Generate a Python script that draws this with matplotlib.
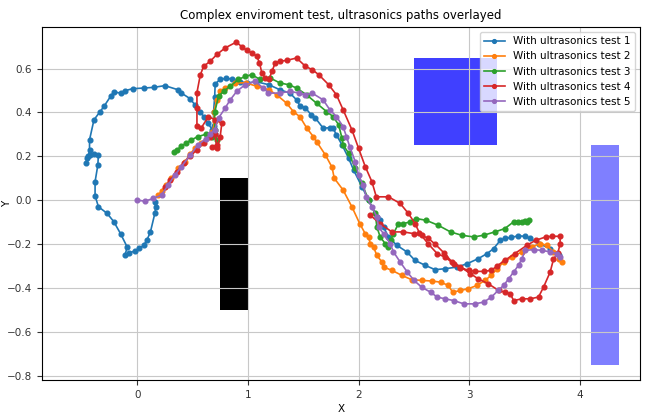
import matplotlib
matplotlib.use("Agg")
import matplotlib.pyplot as plt
import matplotlib.patches as patches

# path data (x, y in metres)
x1 = [0.16, 0.17, 0.16, 0.12, 0.09, 0.06, 0.02, -0.02, -0.07, -0.11, -0.09, -0.15, -0.21, -0.27, -0.35,
      -0.38, -0.38, -0.355, -0.35, -0.39, -0.43, -0.45, -0.46, -0.44, -0.43, -0.43, -0.39, -0.34, -0.30,
      -0.24, -0.21, -0.15, -0.11, -0.04, 0.06, 0.15, 0.25, 0.37, 0.40, 0.48, 0.52, 0.57, 0.60, 0.64, 0.68,
      0.70, 0.69, 0.69, 0.70, 0.705, 0.75, 0.80, 0.855, 0.93, 0.99, 1.075, 1.19, 1.29, 1.38, 1.44, 1.47,
      1.52, 1.57, 1.61, 1.68, 1.74, 1.77, 1.80, 1.85, 1.91, 1.955, 2.03, 2.09, 2.165, 2.195, 2.225, 2.27,
      2.345, 2.436, 2.51, 2.60, 2.69, 2.78, 2.89, 2.98, 3.08, 3.16, 3.22, 3.28, 3.32, 3.38, 3.44, 3.50,
      3.55, 3.625, 3.73, 3.81]
y1 = [-0.01, -0.03, -0.06, -0.145, -0.18, -0.206, -0.22, -0.232, -0.24, -0.252, -0.214, -0.153, -0.099,
      -0.061, -0.03, 0.02, 0.084, 0.16, 0.206, 0.21, 0.206, 0.19, 0.17, 0.20, 0.229, 0.275, 0.366, 0.40,
      0.427, 0.473, 0.493, 0.488, 0.499, 0.508, 0.511, 0.514, 0.522, 0.503, 0.488, 0.462, 0.435, 0.404,
      0.381, 0.35, 0.32, 0.30, 0.34, 0.40, 0.47, 0.53, 0.55, 0.555, 0.552, 0.54, 0.534, 0.54, 0.526, 0.503,
      0.488, 0.457, 0.43, 0.42, 0.39, 0.374, 0.328, 0.33, 0.328, 0.297, 0.252, 0.191, 0.137, 0.061, 0.0,
      -0.076, -0.09, -0.122, -0.168, -0.206, -0.236, -0.275, -0.297, -0.317, -0.313, -0.305, -0.29, -0.267,
      -0.244, -0.221, -0.183, -0.175, -0.17, -0.163, -0.165, -0.175, -0.198, -0.221, -0.252]

x2 = [0.19, 0.22, 0.26, 0.31, 0.37, 0.43, 0.48, 0.52, 0.58, 0.64, 0.68, 0.70, 0.69, 0.72, 0.75, 0.795,
      0.885, 0.98, 1.08, 1.19, 1.26, 1.35, 1.41, 1.47, 1.53, 1.59, 1.62, 1.70, 1.76, 1.78, 1.86, 1.94, 2.01,
      2.06, 2.09, 2.105, 2.135, 2.165, 2.21, 2.225, 2.30, 2.39, 2.48, 2.57, 2.66, 2.74, 2.81, 2.85, 2.92,
      2.99, 3.07, 3.14, 3.20, 3.25, 3.31, 3.385, 3.475, 3.565, 3.64, 3.70, 3.76, 3.81, 3.835]
y2 = [0.023, 0.04, 0.07, 0.10, 0.145, 0.175, 0.21, 0.236, 0.26, 0.29, 0.31, 0.36, 0.40, 0.457, 0.496,
      0.511, 0.534, 0.535, 0.519, 0.503, 0.48, 0.442, 0.404, 0.38, 0.33, 0.29, 0.267, 0.206, 0.15, 0.10,
      0.046, -0.031, -0.107, -0.153, -0.168, -0.198, -0.214, -0.252, -0.282, -0.305, -0.32, -0.343, -0.363,
      -0.366, -0.369, -0.374, -0.389, -0.42, -0.412, -0.404, -0.389, -0.366, -0.343, -0.313, -0.282, -0.26,
      -0.236, -0.214, -0.198, -0.206, -0.236, -0.267, -0.282]

x3 = [0.33, 0.36, 0.40, 0.44, 0.49, 0.55, 0.62, 0.68, 0.72, 0.70, 0.70, 0.735, 0.78, 0.84, 0.915, 0.975,
      1.036, 1.11, 1.20, 1.29, 1.37, 1.44, 1.53, 1.62, 1.71, 1.77, 1.82, 1.85, 1.86, 1.91, 1.97, 2.03, 2.09,
      2.15, 2.165, 2.195, 2.24, 2.27, 2.29, 2.315, 2.36, 2.405, 2.46, 2.52, 2.61, 2.72, 2.83, 2.93, 3.04,
      3.13, 3.23, 3.32, 3.40, 3.44, 3.475, 3.50, 3.535, 3.52]
y3 = [0.22, 0.23, 0.245, 0.26, 0.275, 0.29, 0.30, 0.29, 0.275, 0.32, 0.40, 0.473, 0.496, 0.519, 0.55,
      0.564, 0.572, 0.55, 0.557, 0.534, 0.526, 0.511, 0.48, 0.442, 0.404, 0.381, 0.343, 0.282, 0.252, 0.214,
      0.145, 0.076, 0.0, -0.061, -0.122, -0.168, -0.198, -0.214, -0.183, -0.153, -0.107, -0.107, -0.10,
      -0.084, -0.092, -0.115, -0.145, -0.16, -0.168, -0.16, -0.145, -0.13, -0.099, -0.10, -0.099, -0.095,
      -0.092, -0.10]

x4 = [0.25, 0.30, 0.36, 0.42, 0.48, 0.54, 0.60, 0.66, 0.70, 0.72, 0.675, 0.72, 0.75, 0.765, 0.705, 0.644,
      0.58, 0.54, 0.54, 0.54, 0.57, 0.60, 0.66, 0.72, 0.795, 0.894, 0.945, 0.99, 1.036, 1.08, 1.105, 1.126,
      1.156, 1.19, 1.22, 1.247, 1.29, 1.35, 1.44, 1.52, 1.58, 1.64, 1.73, 1.80, 1.86, 1.94, 2.0, 2.06, 2.12,
      2.16, 2.27, 2.375, 2.45, 2.51, 2.55, 2.63, 2.71, 2.78, 2.86, 2.92, 3.0, 3.05, 3.13, 3.2, 3.25, 3.32,
      3.41, 3.52, 3.6, 3.69, 3.75, 3.82, 3.82, 3.80, 3.76, 3.73, 3.67, 3.625, 3.55, 3.475, 3.40, 3.37, 3.32,
      3.265, 3.17, 3.08, 3.01, 2.92, 2.84, 2.77, 2.69, 2.63, 2.57, 2.50, 2.405, 2.30, 2.195, 2.105]
y4 = [0.06, 0.09, 0.13, 0.17, 0.20, 0.23, 0.26, 0.29, 0.30, 0.25, 0.244, 0.236, 0.29, 0.351, 0.366, 0.381,
      0.33, 0.34, 0.42, 0.49, 0.57, 0.61, 0.633, 0.664, 0.694, 0.72, 0.70, 0.683, 0.671, 0.656, 0.626, 0.58,
      0.557, 0.55, 0.59, 0.626, 0.633, 0.637, 0.648, 0.61, 0.595, 0.572, 0.526, 0.48, 0.412, 0.32, 0.236,
      0.153, 0.084, 0.015, 0.015, -0.015, -0.061, -0.107, -0.15, -0.2, -0.244, -0.26, -0.29, -0.31, -0.32,
      -0.325, -0.325, -0.32, -0.30, -0.275, -0.244, -0.206, -0.183, -0.168, -0.165, -0.165, -0.2, -0.24,
      -0.27, -0.328, -0.397, -0.442, -0.45, -0.45, -0.458, -0.427, -0.42, -0.412, -0.381, -0.359, -0.335,
      -0.305, -0.28, -0.24, -0.2, -0.175, -0.16, -0.153, -0.145, -0.145, -0.107, -0.069]

x5 = [0.0, 0.07, 0.147, 0.22, 0.28, 0.34, 0.40, 0.48, 0.55, 0.62, 0.66, 0.70, 0.735, 0.795, 0.84, 0.90,
      0.975, 1.066, 1.14, 1.186, 1.29, 1.38, 1.46, 1.52, 1.58, 1.68, 1.74, 1.80, 1.86, 1.89, 1.92, 1.97,
      2.0, 2.04, 2.07, 2.12, 2.165, 2.18, 2.225, 2.285, 2.315, 2.375, 2.44, 2.50, 2.57, 2.65, 2.71, 2.78,
      2.86, 2.95, 3.05, 3.13, 3.20, 3.26, 3.31, 3.355, 3.40, 3.445, 3.475, 3.505, 3.58, 3.655, 3.73, 3.79,
      3.82]
y5 = [0.0, -0.005, 0.008, 0.023, 0.069, 0.114, 0.153, 0.206, 0.252, 0.28, 0.30, 0.32, 0.374, 0.42, 0.457,
      0.496, 0.526, 0.541, 0.511, 0.488, 0.488, 0.496, 0.488, 0.48, 0.488, 0.457, 0.412, 0.381, 0.335, 0.29,
      0.244, 0.175, 0.114, 0.069, 0.015, -0.031, -0.076, -0.122, -0.153, -0.198, -0.236, -0.282, -0.328,
      -0.366, -0.397, -0.42, -0.442, -0.45, -0.458, -0.473, -0.473, -0.465, -0.442, -0.412, -0.389, -0.359,
      -0.328, -0.297, -0.267, -0.229, -0.226, -0.229, -0.236, -0.244, -0.26]

paths = [(x1, y1), (x2, y2), (x3, y3), (x4, y4), (x5, y5)]

# obstacles: (x, y, width, height, colour, alpha)
obstacles = [
    (0.75, -0.5, 0.25, 0.6, "black", 1.0),
    (2.5, 0.25, 0.75, 0.4, "blue", 0.75),
    (4.1, -0.75, 0.25, 1.0, "blue", 0.5),
]

fig = plt.figure(figsize=(6.45, 4.13), dpi=100)
ax = fig.add_axes([0.065, 0.08, 0.927, 0.855])

for ox, oy, w, h, c, a in obstacles:
    ax.add_patch(patches.Rectangle((ox, oy), w, h, color=c, alpha=a, linewidth=0))

for i, (xs, ys) in enumerate(paths):
    ax.plot(xs, ys, marker='o', markersize=3.4, linewidth=1.2,
            label=f"With ultrasonics test {i + 1}")

ax.set_xlim(-0.86, 4.54)
ax.set_ylim(-0.82, 0.79)
ax.set_xticks([0, 1, 2, 3, 4])
ax.set_yticks([-0.8, -0.6, -0.4, -0.2, 0.0, 0.2, 0.4, 0.6])
ax.tick_params(labelsize=7.5, colors='#333333')
ax.grid(True, color='#c8c8c8')
ax.set_xlabel("X", fontsize=7.5, labelpad=3)
ax.set_ylabel("Y", fontsize=7.5)
ax.yaxis.set_label_coords(-0.05, 0.5)
ax.set_title("Complex enviroment test, ultrasonics paths overlayed", fontsize=8.5)
ax.legend(loc='upper right', fontsize=7.5, markerscale=0.8)

fig.savefig("out.png", dpi=100)
